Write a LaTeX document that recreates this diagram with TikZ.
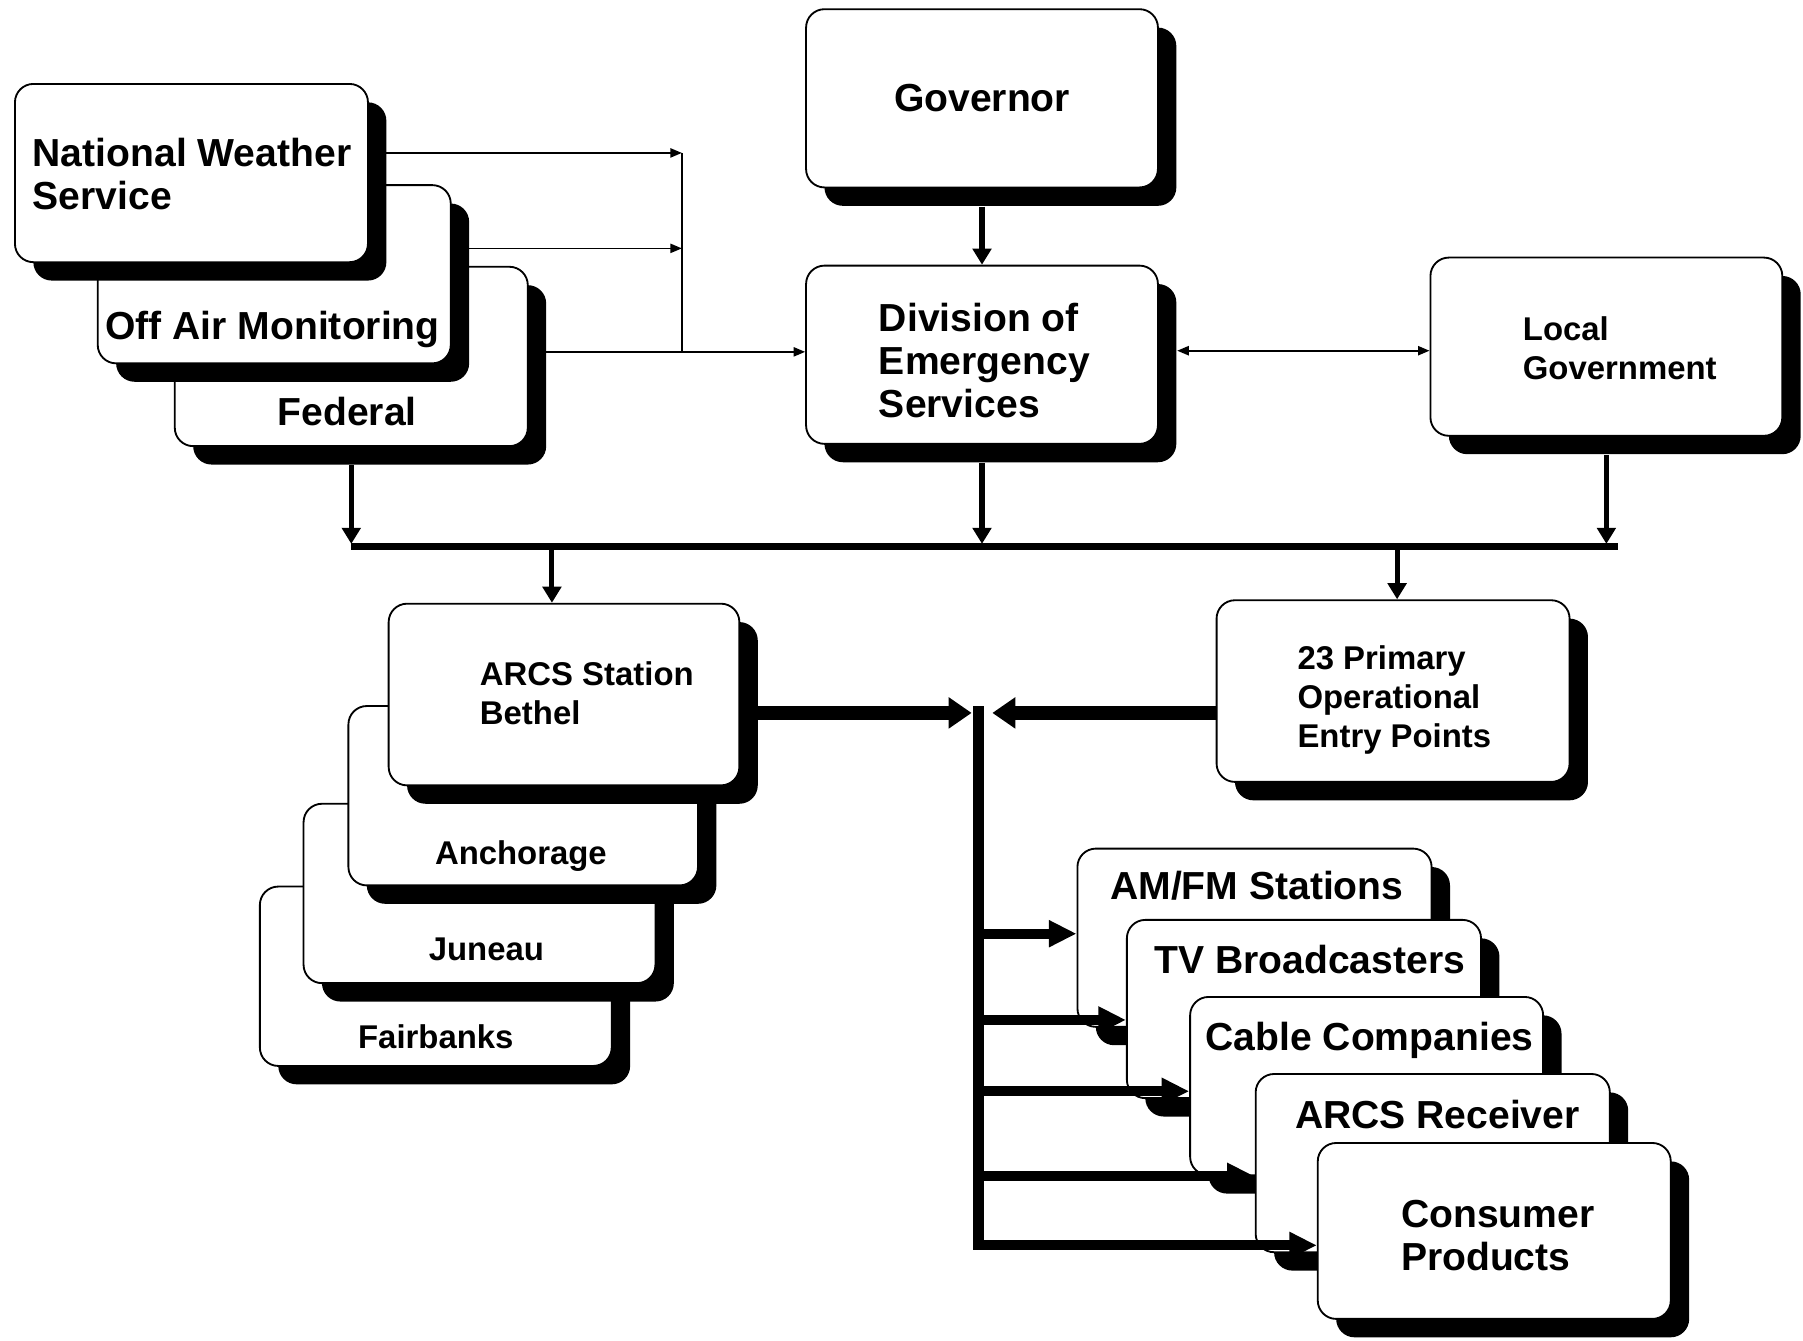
\documentclass[tikz,border=0pt]{standalone}
\usepackage{fontspec}
\setmainfont{Liberation Sans}
\usetikzlibrary{arrows.meta,shadows,fit}
\begin{document}
\begin{tikzpicture}[x=0.5pt,y=-0.5pt,
  box/.style={draw=black, line width=0.8pt, fill=white, rounded corners=8pt, inner sep=0pt,
     drop shadow={shadow xshift=8pt, shadow yshift=-8pt, fill=black, opacity=1}},
  big/.style={font=\fontsize{17}{18.75}\selectfont\bfseries, inner sep=0pt, align=left},
  small/.style={font=\fontsize{14.3}{17}\selectfont\bfseries, inner sep=0pt, align=left},
  thinarr/.style={line width=0.75pt, -{Triangle[length=5pt,width=4pt]}},
  thinline/.style={line width=0.75pt},
  dblarr/.style={line width=0.75pt, {Triangle[length=5pt,width=4pt]}-{Triangle[length=5pt,width=4pt]}},
  medarr/.style={line width=2.2pt, -{Triangle[length=7pt,width=8pt]}},
  busline/.style={line width=3pt},
  fatarr/.style={line width=6pt, -{Triangle[length=10pt,width=13pt]}},
  brarr/.style={line width=4.3pt, -{Triangle[length=12pt,width=11pt]}},
  vline/.style={line width=5pt},
]
\fill[white] (0,0) rectangle (1568,1166);
\useasboundingbox (0,0) rectangle (1568,1166);

% top-left stack
\node[box, fit={(152,232)(459,388)}] (fed) {};
\node[box, fit={(85,161)(392,316)}] (off) {};
\node[box, fit={(13,73)(320,228)}] (nws) {};
% centre column
\node[box, fit={(701,8)(1007,163)}] (gov) {};
\node[box, fit={(701,231)(1007,386)}] (div) {};
\node[box, fit={(1244,224)(1550,379)}] (loc) {};
% left stack
\node[box, fit={(226,771)(532,927)}] (fai) {};
\node[box, fit={(264,699)(570,855)}] (jun) {};
\node[box, fit={(303,614)(607,770)}] (anc) {};
\node[box, fit={(338,525)(643,683)}] (arcs) {};
% primary entry points
\node[box, fit={(1058,522)(1365,680)}] (prim) {};
% right stack
\node[box, fit={(937,738)(1245,893)}] (am) {};
\node[box, fit={(980,800)(1288,955)}] (tv) {};
\node[box, fit={(1035,867)(1342,1022)}] (cab) {};
\node[box, fit={(1092,934)(1400,1089)}] (rec) {};
\node[box, fit={(1146,994)(1453,1147)}] (con) {};

% labels
\node[big, anchor=north west] (nwst) at (28,120) {National Weather\\Service};
\node[big, anchor=base] (offt) at (237,295) {Off Air Monitoring};
\node[big, anchor=base] (fedt) at (302,370) {Federal};
\node[big, anchor=base] (govt) at (854,97) {Governor};
\node[big, anchor=north west] (divt) at (764,263) {Division of\\Emergency\\Services};
\node[small, anchor=north west] (loct) at (1324,275) {Local\\Government};
\node[small, anchor=north west] (arcst) at (417,575) {ARCS Station\\Bethel};
\node[small, anchor=base] (anct) at (453,752) {Anchorage};
\node[small, anchor=base] (junt) at (423,835) {Juneau};
\node[small, anchor=base] (fait) at (379,912) {Fairbanks};
\node[small, anchor=north west] (primt) at (1128,561) {23 Primary\\Operational\\Entry Points};
\node[big, anchor=base] (amt) at (1093,782) {AM/FM Stations};
\node[big, anchor=base] (tvt) at (1139,847) {TV Broadcasters};
\node[big, anchor=base] (cabt) at (1191,914) {Cable Companies};
\node[big, anchor=base] (rect) at (1250,981) {ARCS Receiver};
\node[big, anchor=north west] (cont) at (1218,1043) {Consumer\\Products};

% thin connectors at top left
\coordinate (ja) at (593,133);
\coordinate (jb) at (593,216);
\coordinate (jc) at (593,306);
\draw[thinarr] (nws.east |- ja) -- (ja);
\draw[thinarr] (off.east |- jb) -- (jb);
\draw[thinline] (ja) -- (jc);
\draw[thinarr] (fed.east |- jc) -- (div.west |- jc);
% division <-> local government
\draw[dblarr] ([xshift=8pt,yshift=1.75pt]div.east) -- ([yshift=-1.75pt]loc.west);
% governor -> division
\draw[medarr] ([yshift=-8pt]gov.south) -- (div.north);
% bus
\coordinate (busL) at (305,475);
\coordinate (busR) at (1407,475);
\draw[busline] (busL) -- (busR);
\draw[medarr, shorten >=1pt] ([yshift=-8pt]fed.south) -- (fed.south |- busL);
\draw[medarr, shorten >=1pt] ([yshift=-8pt]div.south) -- (div.south |- busL);
\draw[medarr, shorten >=1pt] ([yshift=-8pt]loc.south) -- (loc.south |- busL);
\coordinate (ba) at (480,475);
\coordinate (bp) at (1215,475);
\draw[medarr] (ba) -- (ba |- arcs.north);
\draw[medarr] (bp) -- (bp |- prim.north);
% junction
\coordinate (jn) at (851,620);
\coordinate (jtop) at (851,614);
\coordinate (jbot) at (851,1087);
\draw[fatarr] (arcs.east |- jn) -- ([xshift=-3pt]jn);
\draw[fatarr] (prim.west |- jn) -- ([xshift=6pt]jn);
\draw[vline] (jtop) -- (jbot);
\coordinate (b1) at (851,812);
\coordinate (b2) at (851,887);
\coordinate (b3) at (851,949);
\coordinate (b4) at (851,1023);
\coordinate (b5) at (851,1083);
\draw[brarr] (b1) -- (b1 -| am.west);
\draw[brarr] (b2) -- (b2 -| tv.west);
\draw[brarr] (b3) -- (b3 -| cab.west);
\draw[brarr] (b4) -- (b4 -| rec.west);
\draw[brarr] (b5) -- (b5 -| con.west);
\end{tikzpicture}
\end{document}
